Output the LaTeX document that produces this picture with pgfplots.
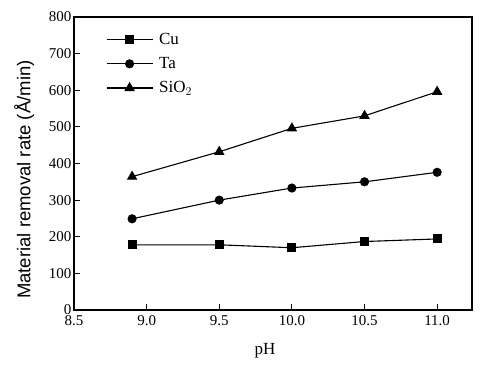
\documentclass[border=0pt]{standalone}
\usepackage{fontspec}
\setmainfont{Liberation Serif}
\newfontfamily\sansf{Liberation Sans}
\usepackage{pgfplots}
\pgfplotsset{compat=1.18}
\begin{document}
\begin{tikzpicture}
\begin{axis}[
  scale only axis,
  width=398pt, height=293pt,
  xmin=8.5, xmax=11.24, ymin=0, ymax=800,
  xtick={8.5,9.0,9.5,10.0,10.5,11.0},
  xticklabels={8.5,9.0,9.5,10.0,10.5,11.0},
  ytick={0,100,...,800},
  tick align=inside,
  xtick pos=bottom, ytick pos=left,
  major tick length=6pt,
  axis line style={line width=1.1pt},
  tick style={line width=0.9pt, black},
  /pgf/number format/assume math mode=true,
  tick label style={font=\fontsize{15}{17}\selectfont},
  yticklabel style={xshift=1pt},
  xticklabel style={yshift=-2pt},
  xlabel={pH},
  ylabel={Material removal rate (Å/min)},
  xlabel style={font=\fontsize{17}{19}\selectfont, at={(ticklabel cs:0.48)}, yshift=-11pt},
  ylabel style={font=\sansf\fontsize{18.5}{20}\selectfont, at={(ticklabel cs:0.445)}, yshift=8pt},
  legend style={draw=none, fill=none, at={(axis description cs:0.08,0.952)}, anchor=north west,
    font=\fontsize{17}{19}\selectfont, row sep=7.5pt, inner sep=0pt},
  legend cell align=left,
  legend image code/.code={\draw[mark repeat=2,mark phase=2] plot coordinates {(0pt,0pt)(23pt,0pt)(46pt,0pt)};},
  every axis plot/.append style={black, line width=1.1pt},
]
\addplot[mark=square*, mark size=4pt] coordinates {(8.9,178)(9.5,178)(10.0,170)(10.5,187)(11.0,194)};
\addlegendentry{\hspace{4pt}Cu}
\addplot[mark=*, mark size=4pt] coordinates {(8.9,249)(9.5,300)(10.0,333)(10.5,350)(11.0,376)};
\addlegendentry{\hspace{4pt}Ta}
\addplot[mark=triangle*, mark size=5pt] coordinates {(8.9,364)(9.5,432)(10.0,496)(10.5,530)(11.0,596)};
\addlegendentry{\hspace{4pt}SiO$_2$}
\end{axis}
\path (current axis.south west) ++(-74pt,-58pt) coordinate (bbl);
\path (current axis.north east) ++(30pt,17pt) coordinate (bbr);
\useasboundingbox (bbl) rectangle (bbr);
\end{tikzpicture}
\end{document}
